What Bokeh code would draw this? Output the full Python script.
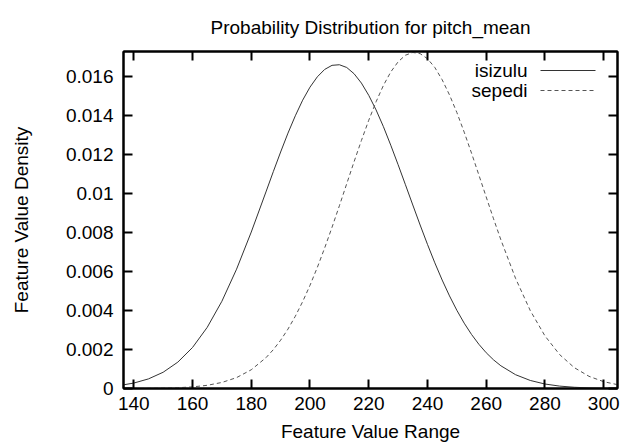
from bokeh.plotting import figure
from bokeh.models import Range1d, FixedTicker, LinearAxis, Label, Arrow, CustomJSTickFormatter
from bokeh.embed import file_html
from bokeh.resources import INLINE

# Data
x_values = [135, 140, 145, 150, 155, 160, 165, 170, 175, 180, 185,
            187.5, 190, 192.5, 195, 197.5, 200, 202.5, 205, 207.5, 210, 212.5,
            215, 217.5, 220, 222.5, 225, 227.5, 230, 232.5, 235, 237.5, 240,
            242.5, 245, 247.5, 250, 252.5, 255, 257.5, 260, 262.5,
            265, 270, 275, 280, 285, 290, 295, 300, 305]
isizulu = [0.000151, 0.000279, 0.000493, 0.000834, 0.001354, 0.002105, 0.003138,
           0.004478, 0.006126, 0.008031, 0.01009,
           0.01113, 0.01214, 0.01311, 0.01400, 0.01480, 0.01547, 0.01600, 0.01638,
           0.01659, 0.01662, 0.01648, 0.01616, 0.01568, 0.01505, 0.01430, 0.01344,
           0.01249, 0.01149, 0.01046, 0.009421, 0.008393, 0.007399, 0.006452,
           0.005568, 0.004753, 0.004014, 0.003354, 0.002774, 0.002270, 0.001836,
           0.001470,
           0.001165, 0.000708, 0.000413, 0.000230, 0.000123, 0.0000631, 0.0000310,
           0.0000146, 0.0000066]
sepedi = [0.0000013, 0.0000034, 0.0000080, 0.0000183, 0.0000398, 0.0000826, 0.000164,
          0.000310, 0.000559, 0.000962, 0.001580,
          0.001991, 0.002479, 0.003050, 0.003709, 0.004459, 0.005296, 0.006217,
          0.007216, 0.008275, 0.009379, 0.01051, 0.01164, 0.01273, 0.01377,
          0.01472, 0.01556, 0.01625, 0.01677, 0.01711, 0.01725, 0.01719, 0.01693,
          0.01648, 0.01585, 0.01507, 0.01417, 0.01316, 0.01208, 0.01096, 0.00983,
          0.00871,
          0.00763, 0.00565, 0.00400, 0.00270, 0.00174, 0.00107, 0.000625,
          0.000350, 0.000187]
series_names = ["isizulu", "sepedi"]
title_text = "Probability Distribution for pitch_mean"
x_ticks = [140, 160, 180, 200, 220, 240, 260, 280, 300]
y_ticks = [0, 0.002, 0.004, 0.006, 0.008, 0.01, 0.012, 0.014, 0.016]
y_tick_labels = ["0", "0.002", "0.004", "0.006", "0.008", "0.01", "0.012", "0.014", "0.016"]

FONT = "Liberation Sans"
FS = "19px"

p = figure(width=623, height=445, output_backend="svg", toolbar_location=None,
           x_range=Range1d(136.5, 304.7), y_range=Range1d(0, 0.0173),
           min_border_left=123, min_border_right=6, min_border_top=49,
           min_border_bottom=57, title=title_text)
p.title.align = "center"
p.title.text_font = FONT
p.title.text_font_size = FS
p.title.text_font_style = "normal"
p.title.text_color = "black"
p.title.text_line_height = 0.6
p.title.standoff = 28
p.grid.visible = False
p.outline_line_color = "black"
p.outline_line_width = 2
p.background_fill_color = "white"
p.border_fill_color = "white"

p.xaxis.axis_label = "Feature Value Range"
p.yaxis.axis_label = "Feature Value Density"
p.xaxis.ticker = FixedTicker(ticks=x_ticks)
p.yaxis.ticker = FixedTicker(ticks=y_ticks)
p.yaxis.major_label_overrides = {t: s for t, s in zip(y_ticks, y_tick_labels)}

for ax in (p.xaxis[0], p.yaxis[0]):
    ax.major_label_text_font = FONT
    ax.major_label_text_font_size = FS
    ax.axis_label_text_font = FONT
    ax.axis_label_text_font_size = FS
    ax.axis_label_text_font_style = "normal"
    ax.major_tick_in = 9
    ax.major_tick_out = 0
    ax.major_tick_line_width = 2
    ax.minor_tick_line_color = None
    ax.axis_line_width = 2
    ax.axis_line_color = "black"
    ax.major_label_text_color = "black"
    ax.axis_label_text_color = "black"

p.yaxis.major_label_standoff = 10
p.yaxis.axis_label_standoff = 31
p.xaxis.major_label_standoff = 8
p.xaxis.axis_label_standoff = 8

# mirrored ticks on top and right (no labels)
blank = CustomJSTickFormatter(code="return '';")
top = LinearAxis(ticker=FixedTicker(ticks=x_ticks), formatter=blank,
                 major_tick_in=9, major_tick_out=0, major_tick_line_width=2,
                 minor_tick_line_color=None, axis_line_width=2, major_label_standoff=0)
right = LinearAxis(ticker=FixedTicker(ticks=y_ticks), formatter=blank,
                   major_tick_in=9, major_tick_out=0, major_tick_line_width=2,
                   minor_tick_line_color=None, axis_line_width=2, major_label_standoff=0)
p.add_layout(top, "above")
p.add_layout(right, "right")

p.line(x_values, isizulu, line_color="#333333", line_width=1)
p.line(x_values, sepedi, line_color="#555555", line_width=1, line_dash="4 3")

# gnuplot-style legend (text right-aligned, sample on the right)
dashes = [None, "4 3"]
colors = ["#333333", "#555555"]
for i, name in enumerate(series_names):
    ys = 318 - 20 * i
    p.add_layout(Label(x=404, y=ys, x_units="screen", y_units="screen", text=name,
                       text_align="right", text_baseline="middle",
                       text_font=FONT, text_font_size=FS, text_color="black"))
    arr = Arrow(end=None, x_start=417, y_start=ys, x_end=472, y_end=ys,
                start_units="screen", end_units="screen",
                line_color=colors[i], line_width=1)
    if dashes[i]:
        arr.line_dash = dashes[i]
    p.add_layout(arr)

open("out.html", "w").write(file_html(p, INLINE))
